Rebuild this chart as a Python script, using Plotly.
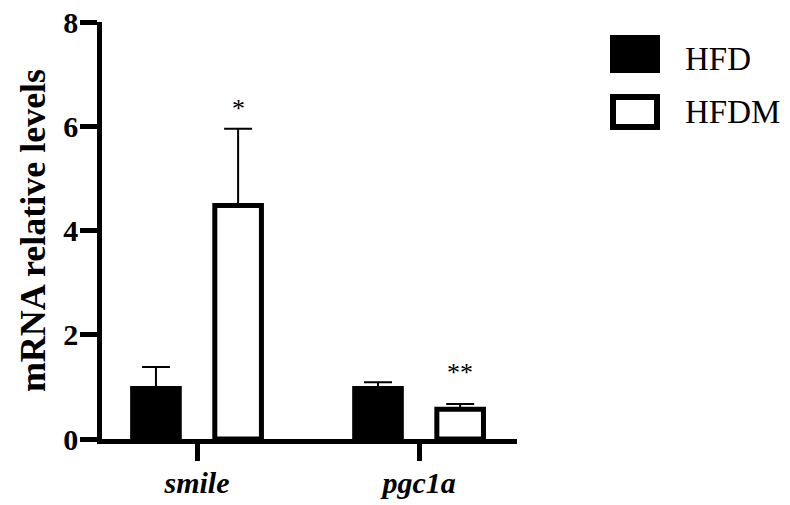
import plotly.graph_objects as go

categories = ["smile", "pgc1a"]
hfd_values = [0.97, 0.97]
hfd_errors = [0.41, 0.12]
hfdm_values = [4.48, 0.57]
hfdm_errors = [1.47, 0.10]
significance = ["*", "**"]
y_ticks = [0, 2, 4, 6, 8]

SERIF = "Liberation Serif"
W, H = 790, 505
L, R, T, B = 102, 273, 22, 66
PW, PH = W - L - R, H - T - B


def px_x(p):
    return (p - L) / PW


def px_y(p):
    return (H - B - p) / PH


fig = go.Figure()
bar_w = 0.21
fig.add_trace(go.Bar(
    x=categories, y=hfd_values, name="HFD", width=bar_w, offset=-0.185 - bar_w / 2,
    marker=dict(color="black", line=dict(color="black", width=5)),
    error_y=dict(type="data", array=hfd_errors, symmetric=False, arrayminus=[0, 0],
                 color="black", thickness=2, width=14),
    showlegend=False,
))
fig.add_trace(go.Bar(
    x=categories, y=hfdm_values, name="HFDM", width=bar_w, offset=0.185 - bar_w / 2,
    marker=dict(color="white", line=dict(color="black", width=5)),
    error_y=dict(type="data", array=hfdm_errors, symmetric=False, arrayminus=[0, 0],
                 color="black", thickness=2, width=14),
    showlegend=False,
))

shifts = [20, 32]
for cat, v, e, s, sh in zip(categories, hfdm_values, hfdm_errors, significance, shifts):
    fig.add_annotation(x=cat, y=v + e, xref="x", yref="y", text=s, showarrow=False,
                       xshift=41, yshift=sh, yanchor="middle",
                       font=dict(family=SERIF, size=26, color="black"))

# legend drawn as shapes + text
fig.add_shape(type="rect", xref="paper", yref="paper",
              x0=px_x(612), x1=px_x(658), y0=px_y(71), y1=px_y(37),
              fillcolor="black", line=dict(color="black", width=4))
fig.add_shape(type="rect", xref="paper", yref="paper",
              x0=px_x(613), x1=px_x(657), y0=px_y(127), y1=px_y(97),
              fillcolor="white", line=dict(color="black", width=6))
fig.add_annotation(xref="paper", yref="paper", x=px_x(683), y=px_y(59), text="HFD",
                   showarrow=False, xanchor="left", yanchor="middle",
                   font=dict(family=SERIF, size=33, color="black"))
fig.add_annotation(xref="paper", yref="paper", x=px_x(683), y=px_y(112), text="HFDM",
                   showarrow=False, xanchor="left", yanchor="middle",
                   font=dict(family=SERIF, size=33, color="black"))

fig.update_layout(
    width=W, height=H,
    margin=dict(l=L, r=R, t=T, b=B, autoexpand=False),
    plot_bgcolor="white", paper_bgcolor="white",
    barmode="overlay",
    showlegend=False,
)
fig.update_xaxes(
    range=[-0.428, 1.441], showline=True, linecolor="black", linewidth=4.5,
    ticks="outside", ticklen=17, tickwidth=4.5, tickcolor="black", automargin=False,
    ticklabeloverflow="allow", ticklabelstandoff=-4,
    tickfont=dict(family=SERIF, size=30, color="black", style="italic", weight="bold"),
    showgrid=False, zeroline=False,
)
fig.update_yaxes(
    range=[0, 8], tickvals=y_ticks, showline=True, linecolor="black", linewidth=4.5,
    ticks="outside", ticklen=17, tickwidth=4.5, tickcolor="black", automargin=False,
    ticklabeloverflow="allow", ticklabelstandoff=-4,
    tickfont=dict(family=SERIF, size=30, color="black", weight="bold"),
    title=dict(text="mRNA relative levels", standoff=8,
               font=dict(family=SERIF, size=36, color="black", weight="bold")),
    showgrid=False, zeroline=False,
)

fig.write_html("out.html", config={"displayModeBar": False},
               post_script="document.body.style.margin='0';")
